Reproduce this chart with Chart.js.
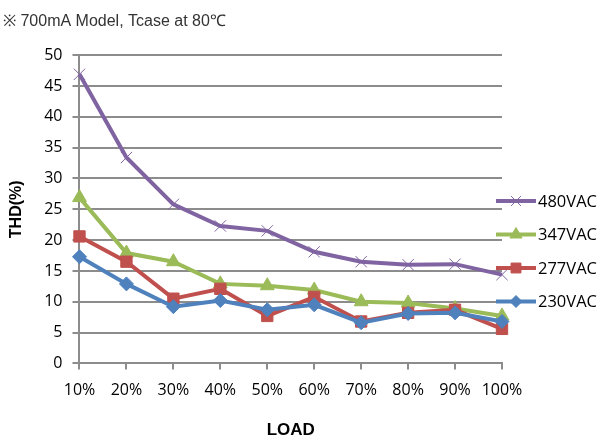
<!DOCTYPE html>
<html>
<head>
<meta charset="utf-8">
<script src="https://cdn.jsdelivr.net/npm/chart.js@4.4.1/dist/chart.umd.min.js"></script>
<style>
html,body{margin:0;padding:0;background:#fff;}
#wrap{width:602px;height:445px;position:relative;}
</style>
</head>
<body>
<div id="wrap"><canvas id="thdChart"></canvas></div>
<script>
const loads = ['10%','20%','30%','40%','50%','60%','70%','80%','90%','100%'];
const thd230 = [17.3, 12.9, 9.2, 10.2, 8.7, 9.5, 6.6, 8.1, 8.2, 6.8];
const thd277 = [20.6, 16.5, 10.5, 12.1, 7.7, 10.8, 6.8, 8.2, 8.7, 5.6];
const thd347 = [26.9, 17.9, 16.5, 12.9, 12.6, 11.9, 10.0, 9.8, 8.9, 7.7];
const thd480 = [46.9, 33.4, 25.8, 22.3, 21.5, 18.1, 16.5, 16.0, 16.1, 14.4];
const yTicks = [0,5,10,15,20,25,30,35,40,45,50];

// legend drawn on the right, line + marker like the office chart
const sideLegend = {
  id: 'sideLegend',
  afterDraw(chart) {
    const ctx = chart.ctx;
    const x0 = chart.chartArea.right - 6;
    const items = chart.data.datasets.slice().reverse();
    ctx.save();
    items.forEach((ds, i) => {
      const y = 201 + i * 33.5;
      ctx.strokeStyle = ds.borderColor;
      ctx.lineWidth = 4;
      ctx.beginPath(); ctx.moveTo(x0, y); ctx.lineTo(x0 + 40, y); ctx.stroke();
      ctx.fillStyle = ds.pointBackgroundColor;
      ctx.lineWidth = 1;
      Chart.helpers.drawPoint(ctx, {
        pointStyle: ds.pointStyle, radius: ds.pointRadius - 1, rotation: 0, borderWidth: 1
      }, x0 + 20, y);
      ctx.fillStyle = '#000';
      ctx.font = '16.5px "Open Sans", sans-serif';
      ctx.textBaseline = 'middle';
      ctx.fillText(ds.label, x0 + 42, y + 1);
    });
    ctx.restore();
  }
};

function series(label, data, color, style, r) {
  return {
    label, data,
    borderColor: color, backgroundColor: color,
    pointBackgroundColor: color, pointBorderColor: color,
    borderWidth: 4, pointStyle: style, pointRadius: r,
    pointBorderWidth: 1, pointHoverRadius: r, tension: 0
  };
}

new Chart(document.getElementById('thdChart').getContext('2d'), {
  type: 'line',
  data: {
    labels: loads,
    datasets: [
      series('230VAC', thd230, '#4F81BD', 'rectRot', 7),
      series('277VAC', thd277, '#C0504D', 'rect', 8),
      series('347VAC', thd347, '#9BBB59', 'triangle', 8),
      series('480VAC', thd480, '#8064A2', 'crossRot', 8)
    ]
  },
  options: {
    responsive: true, maintainAspectRatio: false, animation: false,
    layout: { padding: { left: 3, right: 100, top: 4, bottom: 0 } },
    plugins: {
      legend: { display: false },
      tooltip: { enabled: false },
      title: {
        display: true, align: 'start', color: '#333',
        text: '※ 700mA Model, Tcase at 80℃',
        font: { family: '"Liberation Sans", Arial, sans-serif', size: 16, weight: 'normal' },
        padding: { top: 8, bottom: 24 }
      }
    },
    scales: {
      x: {
        offset: false,
        grid: { drawOnChartArea: false, color: '#8c8c8c', lineWidth: 2, tickLength: 6 },
        border: { color: '#8c8c8c', width: 2 },
        ticks: { color: '#000', padding: 11, font: { family: '"Open Sans", sans-serif', size: 16 }, maxRotation: 0 },
        title: { display: true, text: 'LOAD', color: '#000', padding: { top: 10 },
          font: { family: '"Liberation Sans", Arial, sans-serif', size: 17, weight: 'bold' } }
      },
      y: {
        min: 0, max: 50,
        afterBuildTicks: axis => { axis.ticks = yTicks.map(v => ({ value: v })); },
        grid: { color: '#8c8c8c', lineWidth: 2, tickLength: 7 },
        border: { color: '#8c8c8c', width: 2 },
        ticks: { color: '#000', padding: 10, font: { family: '"Open Sans", sans-serif', size: 16 } },
        title: { display: true, text: 'THD(%)', color: '#000', padding: { bottom: 8 },
          font: { family: '"Liberation Sans", Arial, sans-serif', size: 16, weight: 'bold' } }
      }
    }
  },
  plugins: [sideLegend]
});
</script>
</body>
</html>
